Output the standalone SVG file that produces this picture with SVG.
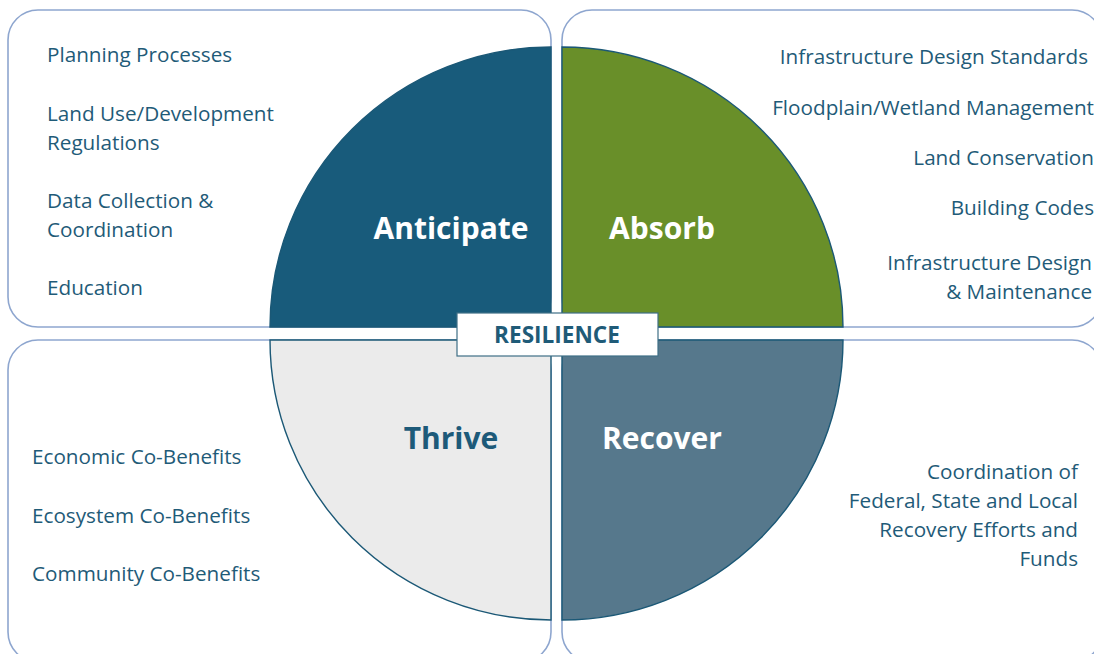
<svg xmlns="http://www.w3.org/2000/svg" width="1094" height="654" viewBox="0 0 1094 654">
<style>
.panel{fill:#ffffff;stroke:#8ea6cf;stroke-width:1.6}
.q{stroke:#1b5876;stroke-width:1.4}
.item{font-family:"Open Sans","Noto Sans",sans-serif;font-size:20.7px;fill:#1f5b78}
.big{font-family:"Open Sans","Noto Sans",sans-serif;font-size:30px;font-weight:bold;text-anchor:middle}
.end{text-anchor:end}
</style>
<rect width="1094" height="654" fill="#ffffff"/>
<g id="panel-anticipate">
<rect class="panel" x="8" y="10" width="543" height="317" rx="30"/>
<text class="item" x="47" y="62">Planning Processes</text>
<text class="item" x="47" y="121">Land Use/Development</text>
<text class="item" x="47" y="150">Regulations</text>
<text class="item" x="47" y="208">Data Collection &amp;</text>
<text class="item" x="47" y="237">Coordination</text>
<text class="item" x="47" y="295">Education</text>
</g>
<g id="panel-absorb">
<rect class="panel" x="562" y="10" width="540" height="317" rx="30"/>
<text class="item end" x="1088" y="64">Infrastructure Design Standards</text>
<text class="item end" x="1094" y="115">Floodplain/Wetland Management</text>
<text class="item end" x="1094" y="165">Land Conservation</text>
<text class="item end" x="1094" y="215">Building Codes</text>
<text class="item end" x="1092" y="270">Infrastructure Design</text>
<text class="item end" x="1092" y="299">&amp; Maintenance</text>
</g>
<g id="panel-thrive">
<rect class="panel" x="8" y="340" width="543" height="322" rx="30"/>
<text class="item" x="32" y="464">Economic Co-Benefits</text>
<text class="item" x="32" y="523">Ecosystem Co-Benefits</text>
<text class="item" x="32" y="581">Community Co-Benefits</text>
</g>
<g id="panel-recover">
<rect class="panel" x="562" y="340" width="540" height="322" rx="30"/>
<text class="item end" x="1078" y="479">Coordination of</text>
<text class="item end" x="1078" y="508">Federal, State and Local</text>
<text class="item end" x="1078" y="537">Recovery Efforts and</text>
<text class="item end" x="1078" y="566">Funds</text>
</g>
<g id="anticipate">
<path class="q" d="M551,327 L270,327 A281,280 0 0 1 551,47 Z" fill="#185b7b"/>
<text class="big" x="451" y="239" fill="#ffffff">Anticipate</text>
</g>
<g id="absorb">
<path class="q" d="M562,327 L562,47 A281,280 0 0 1 843,327 Z" fill="#698f29"/>
<text class="big" x="662" y="239" fill="#ffffff">Absorb</text>
</g>
<g id="thrive">
<path class="q" d="M551,340 L551,620 A281,280 0 0 1 270,340 Z" fill="#ebebeb"/>
<text class="big" x="451" y="449" fill="#1d5a79">Thrive</text>
</g>
<g id="recover">
<path class="q" d="M562,340 L843,340 A281,280 0 0 1 562,620 Z" fill="#56788c"/>
<text class="big" x="662" y="449" fill="#ffffff">Recover</text>
</g>
<g id="resilience">
<rect x="457" y="313" width="201" height="43" fill="#ffffff" stroke="#3f6f86" stroke-width="1.2"/>
<text x="557" y="343" font-family="'Open Sans','Noto Sans',sans-serif" font-size="22.6" font-weight="bold" fill="#1f5b78" text-anchor="middle">RESILIENCE</text>
</g>
<g id="connectors"/>
</svg>
